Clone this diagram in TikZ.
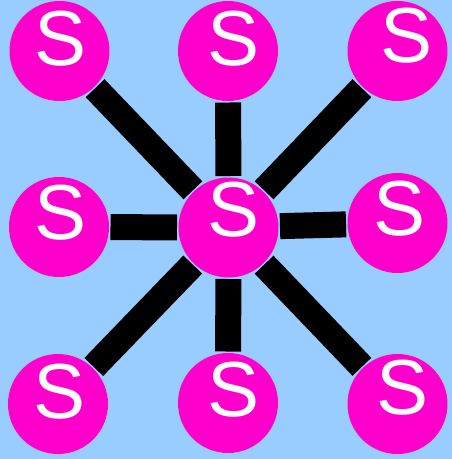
\documentclass[tikz,border=0pt]{standalone}
\usepackage{fontspec}
\setmainfont{Liberation Sans}
\usepackage{xcolor}
\usepackage{tikz}
\usetikzlibrary{backgrounds}
\definecolor{sky}{RGB}{153,204,255}
\definecolor{ball}{RGB}{255,0,204}

\begin{document}
\begin{tikzpicture}[x=1pt,y=-1pt,
atom/.style 2 args={circle,fill=ball,minimum size=100pt,inner sep=0pt,outer sep=1.5pt,
label={[text=white,font=\fontsize{78}{78}\selectfont,xshift=#1,yshift=#2]center:S}},
bond/.style={line width=26pt}]
\node[atom={1.5pt}{12pt}](sTL)at(59.5,51){};
\node[atom={6pt}{12pt}](sTM)at(228,51){};
\node[atom={9.5pt}{15pt}](sTR)at(397.5,51){};
\node[atom={2pt}{14pt}](sML)at(59,227){};
\node[atom={5.5pt}{17.5pt}](sC)at(228.5,227.5){};
\node[atom={2.5pt}{14pt}](sMR)at(397.5,223){};
\node[atom={2pt}{12pt}](sBL)at(58,404){};
\node[atom={6pt}{13pt}](sBM)at(228,403){};
\node[atom={5.5pt}{16pt}](sBR)at(397.5,404){};
\begin{scope}[on background layer]
\fill[sky](0,0)rectangle(452,459);
\foreach \s in {sTL,sTM,sTR,sML,sMR,sBL,sBM,sBR}
\draw[bond](sC)--(\s);
\end{scope}
\end{tikzpicture}
\end{document}
